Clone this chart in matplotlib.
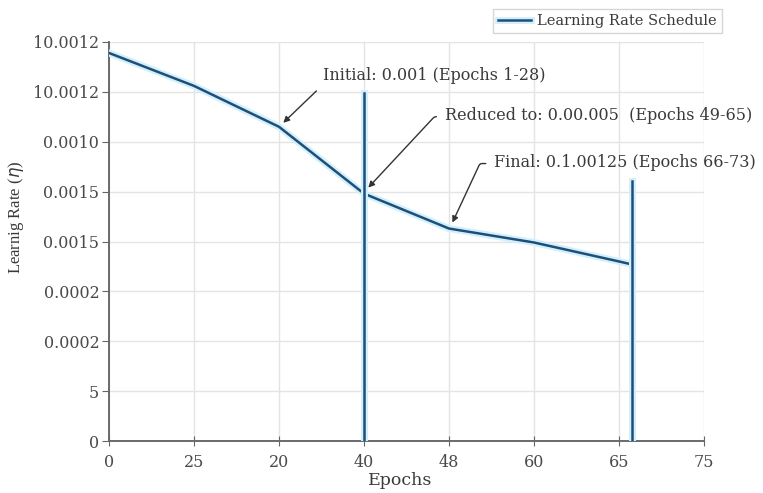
import matplotlib
matplotlib.use('Agg')
import matplotlib.pyplot as plt
import matplotlib.patheffects as pe

# tick labels as printed on the chart (equally spaced positions)
x_labels = ['0', '25', '20', '40', '48', '60', '65', '75']
y_labels = ['0', '5', '0.0002', '0.0002', '0.0015', '0.0015', '0.0010', '10.0012', '10.0012']

# schedule curve, in tick-position units
curve_x = [0, 1, 2, 3, 4, 5, 6, 6.15]
curve_y = [7.78, 7.12, 6.30, 4.96, 4.26, 3.98, 3.60, 3.54]

# vertical step markers
step_x = [3, 6.15]
step_top = [6.97, 5.22]

# annotations: text, arrow target, text anchor (left-centre)
note_text = ['Initial: 0.001 (Epochs 1-28)',
             'Reduced to: 0.00.005  (Epochs 49-65)',
             'Final: 0.1.00125 (Epochs 66-73)']
note_xy = [(2.05, 6.38), (3.05, 5.08), (4.04, 4.38)]
note_text_xy = [(2.52, 7.32), (3.95, 6.52), (4.53, 5.58)]

line_color = '#1f4e79'
text_color = '#3a3a3a'
glow = [pe.Stroke(linewidth=5, foreground='#d2f0fc'), pe.Normal()]

plt.rcParams['font.family'] = ['DejaVu Serif']

fig = plt.figure(figsize=(7.63, 4.93), dpi=100)
ax = fig.add_axes([109/763, 1-441/493, (704-109)/763, (441-42)/493])

ax.plot(curve_x, curve_y, color=line_color, lw=1.8, path_effects=glow,
        label='Learning Rate Schedule', zorder=3)
for sx, st in zip(step_x, step_top):
    ax.plot([sx, sx], [0, st], color=line_color, lw=1.8, path_effects=glow, zorder=3)

# first arrow is straight, the other two leave the text with a short hook
conn = ['arc3', 'angle,angleA=0,angleB=47,rad=2', 'angle,angleA=0,angleB=65,rad=2']
rel = [(0.0, 0.0), (0.0, 0.45), (0.0, 0.45)]
for txt, xy, xytext, cs, rp in zip(note_text, note_xy, note_text_xy, conn, rel):
    ax.annotate(txt, xy=xy, xytext=xytext, fontsize=11.5, color=text_color,
                va='center', ha='left',
                arrowprops=dict(arrowstyle='-|>', color='#333333', lw=1.0,
                                mutation_scale=9, shrinkA=4, shrinkB=0,
                                connectionstyle=cs, relpos=rp))

ax.set_xlim(0, 7)
ax.set_ylim(0, 8)
ax.set_xticks(range(len(x_labels)))
ax.set_xticklabels(x_labels)
ax.set_yticks(range(len(y_labels)))
ax.set_yticklabels(y_labels)
ax.tick_params(axis='both', labelsize=11.5, colors='#666666', labelcolor='#4a4a4a')
ax.tick_params(axis='x', direction='inout', length=7, pad=6)
ax.tick_params(axis='y', direction='out', length=5, pad=2)
ax.grid(True, color='#e4e4e4', lw=1)
ax.set_axisbelow(True)
for s in ['top', 'right']:
    ax.spines[s].set_visible(False)
for s in ['left', 'bottom']:
    ax.spines[s].set_color('#6a6a6a')
    ax.spines[s].set_linewidth(1.4)

ax.set_xlabel('Epochs', fontsize=12.5, color=text_color)
ax.xaxis.set_label_coords((400-109)/595, -0.078)
ax.set_ylabel('Learnig Rate ($\\eta$)', fontsize=12, color=text_color,
              family='Liberation Serif')
ax.yaxis.set_label_coords(-0.14, 0.56)

leg = fig.legend(loc='upper right', bbox_to_anchor=(722/763, 1-9/493), fontsize=10.5,
                 frameon=True, fancybox=False, handlelength=2.3, borderpad=0.35,
                 handletextpad=0.4, borderaxespad=0)
leg.get_frame().set_edgecolor('#cccccc')
leg.get_frame().set_linewidth(1)
for t in leg.get_texts():
    t.set_color(text_color)

fig.savefig('out.png', dpi=100)
